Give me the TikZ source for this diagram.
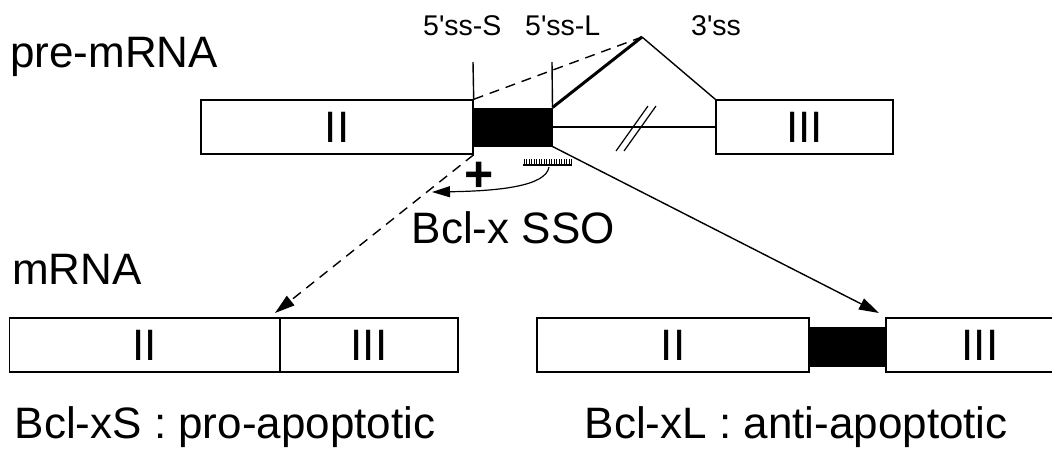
\documentclass[tikz,border=0pt]{standalone}
\usepackage{fontspec}
\setmainfont{Liberation Sans}
\newfontfamily\plainsans{Liberation Sans}
\usetikzlibrary{arrows.meta}
\begin{document}
\begin{tikzpicture}[x=1pt,y=-1pt,
  exon/.style={draw, line width=1.4pt, inner sep=0pt, font=\fontsize{44}{50}\selectfont, fill=white},
  altex/.style={fill=black, draw=black, line width=1pt, inner sep=0pt},
  bigtxt/.style={inner sep=0pt, anchor=base west, font=\fontsize{44}{50}\selectfont},
  sstxt/.style={inner sep=0pt, anchor=base west, font=\plainsans\fontsize{28.5}{32}\selectfont},
  conn/.style={line width=1.4pt},
  tip/.style={-{Triangle[length=20pt,width=12pt]}}]
\useasboundingbox (0,0) rectangle (1052,451);
% labels
\node[bigtxt] (pre) at (10,67) {pre-mRNA};
\node[bigtxt] (mrna) at (12,284) {mRNA};
\node[bigtxt] (sso) at (411.5,243) {Bcl-x SSO};
\node[bigtxt] (bxs) at (14.5,438) {Bcl-xS : pro-apoptotic};
\node[bigtxt] (bxl) at (584.5,438) {Bcl-xL : anti-apoptotic};
\node[sstxt] (lS) at (423,35) {5'ss-S};
\node[sstxt] (lL) at (525,35) {5'ss-L};
\node[sstxt] (l3) at (691,35) {3'ss};
% pre-mRNA
\node[exon, minimum width=272pt, minimum height=54pt] (preII) at (337,127) {II};
\node[altex, minimum width=79pt, minimum height=38pt] (preB) at (512.5,127) {};
\node[exon, minimum width=177pt, minimum height=54pt] (preIII) at (804.5,127) {III};
\coordinate (peak) at (642,37);
\coordinate (ssS) at (473,62);
\coordinate (ssL) at (552,62);
\draw[conn] (preB.east) -- (preIII.west);
\draw[conn] (ssS) -- (preII.north east);
\draw[conn] (ssL) -- (preB.north east);
\draw[line width=3pt] (preB.north east) -- (peak);
\draw[conn, dash pattern=on 10pt off 7pt] (preII.north east) -- (peak);
\draw[conn] (peak) -- (preIII.north west);
% break marks
\coordinate (s1a) at (616,151); \coordinate (s1b) at (648,106);
\coordinate (s2a) at (624,151); \coordinate (s2b) at (656,106);
\draw[line width=1.2pt] (s1a) -- (s1b);
\draw[line width=1.2pt] (s2a) -- (s2b);
% SSO comb
\coordinate (ssoA) at (523,165); \coordinate (ssoB) at (572,165);
\draw[line width=2.2pt] (ssoA) -- (ssoB);
\foreach \i in {0,...,19} {\draw[line width=1pt] (524+2.5*\i,159) -- (524+2.5*\i,165);}
\coordinate (ssoC) at (549,167);
\coordinate (curveEnd) at (432,192);
\draw[line width=1.2pt, -{Triangle[length=18pt,width=11pt]}] (ssoC) .. controls (546,186) and (500,191) .. (curveEnd);
\node[inner sep=0pt, font=\bfseries\fontsize{50}{56}\selectfont] (plus) at (479.5,177) {+};
% mRNA left
\node[exon, minimum width=270.5pt, minimum height=54pt] (sII) at (144.75,345) {II};
\node[exon, minimum width=178pt, minimum height=54pt] (sIII) at (369,345) {III};
% mRNA right
\node[exon, line width=2pt, minimum width=272pt, minimum height=54pt] (lII) at (673,345) {II};
\node[altex, minimum width=77pt, minimum height=39pt] (lB) at (847.5,346.5) {};
\node[exon, line width=2pt, minimum width=188pt, minimum height=54pt] (lIII) at (980,345) {III};
% arrows
\coordinate (tipS) at (275,313);
\coordinate (tipL) at (879,313);
\draw[conn, dash pattern=on 10pt off 7pt, tip] (preII.south east) -- (tipS);
\draw[conn, tip] (preB.south east) -- (tipL);
\end{tikzpicture}
\end{document}
